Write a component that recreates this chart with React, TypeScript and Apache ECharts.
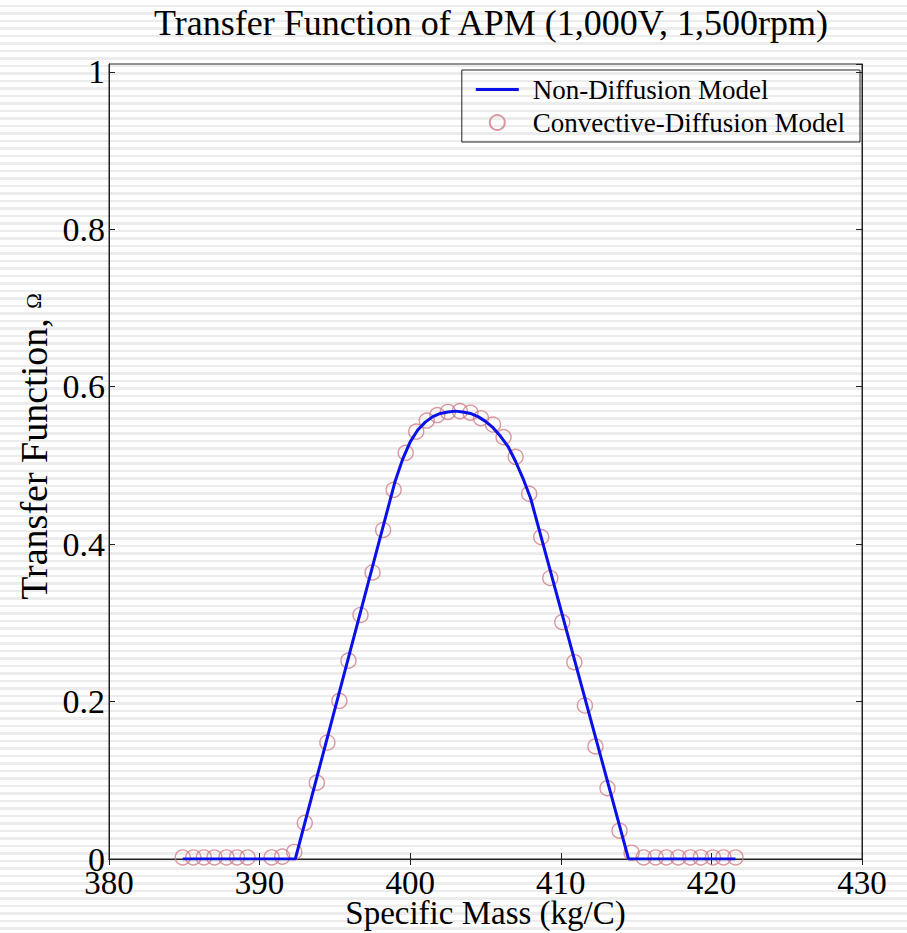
import React, { useEffect, useRef } from "react";
import * as echarts from "echarts";

const titleText = "Transfer Function of APM (1,000V, 1,500rpm)";
const xName = "Specific Mass (kg/C)";
const yName = "Transfer Function, {s|Ω}";
const seriesNames = ["Non-Diffusion Model", "Convective-Diffusion Model"];

const xMin = 380;
const xMax = 430;
const xStep = 10;
const yMin = 0;
const yMax = 1.01;
const yStep = 0.2;

// Non-Diffusion Model (line)
const lineX = [384.9, 392.37, 398.0, 399.0, 399.5, 400.0, 400.5, 401.0, 401.5, 402.0, 402.5, 403.0, 403.5, 404.0, 404.5, 405.0, 405.5, 406.0, 406.5, 407.0, 407.5, 408.0, 414.5, 421.6];
const lineY = [0, 0, 0.408, 0.48, 0.508, 0.53, 0.545, 0.555, 0.562, 0.566, 0.568, 0.569, 0.568, 0.566, 0.562, 0.556, 0.548, 0.537, 0.524, 0.505, 0.483, 0.458, 0, 0];

// Convective-Diffusion Model (circles)
const circX = [384.9, 385.6, 386.3, 387.0, 387.8, 388.5, 389.2, 390.8, 391.5, 392.3, 393.0, 393.8, 394.5, 395.3, 395.9, 396.7, 397.5, 398.2, 398.9, 399.7, 400.4, 401.1, 401.8, 402.5, 403.3, 404.0, 404.7, 405.5, 406.2, 407.0, 407.9, 408.7, 409.3, 410.1, 410.9, 411.6, 412.3, 413.1, 413.9, 414.7, 415.5, 416.3, 417.0, 417.8, 418.6, 419.3, 420.1, 420.8, 421.6];
const circY = [0.002, 0.002, 0.002, 0.002, 0.002, 0.002, 0.002, 0.002, 0.003, 0.009, 0.046, 0.097, 0.148, 0.201, 0.252, 0.31, 0.364, 0.418, 0.469, 0.516, 0.543, 0.557, 0.564, 0.568, 0.569, 0.567, 0.56, 0.552, 0.536, 0.511, 0.464, 0.409, 0.357, 0.301, 0.25, 0.195, 0.143, 0.09, 0.036, 0.008, 0.002, 0.002, 0.002, 0.002, 0.002, 0.002, 0.002, 0.002, 0.002];

const FONT = "'Liberation Serif', 'DejaVu Serif', serif";
const LINE_COLOR = "#0a10e8";

export default function App() {
  const ref = useRef<HTMLDivElement>(null);
  useEffect(() => {
    if (!ref.current) return;
    const chart = echarts.init(ref.current, undefined, { renderer: "svg" });
    const lineData = lineX.map((x, i) => [x, lineY[i]]);
    const circData = circX.map((x, i) => [x, circY[i]]);
    const axisLine = { show: true, lineStyle: { color: "#222", width: 1 } };
    const tick = { show: true, inside: true, length: 6, lineStyle: { color: "#222" } };
    chart.setOption({
      animation: false,
      backgroundColor: "transparent",
      textStyle: { fontFamily: FONT },
      title: {
        text: titleText,
        left: 486,
        top: 0,
        textAlign: "center",
        textStyle: { fontFamily: FONT, fontSize: 36, fontWeight: "normal", color: "#000" },
      },
      legend: {
        orient: "vertical",
        right: 47,
        top: 70,
        padding: [6, 15, 6, 14],
        itemGap: 6,
        itemWidth: 43,
        itemHeight: 15,
        borderColor: "#222",
        borderWidth: 1,
        backgroundColor: "transparent",
        textStyle: { fontFamily: FONT, fontSize: 27, color: "#000", padding: [0, 0, 0, 9] },
        data: [
          { name: seriesNames[0], icon: "path://M0,0H43V3H0Z" },
          { name: seriesNames[1] },
        ],
      },
      grid: {
        left: 109,
        right: 45,
        top: 64,
        bottom: 74,
        containLabel: false,
        outerBoundsMode: "none",
        show: true,
        borderColor: "#222",
        borderWidth: 1,
        backgroundColor: "transparent",
      },
      xAxis: [
        {
          type: "value",
          min: xMin,
          max: xMax,
          interval: xStep,
          position: "bottom",
          name: xName,
          nameLocation: "middle",
          nameGap: 39,
          nameMoveOverlap: false,
          nameTextStyle: { fontFamily: FONT, fontSize: 33, lineHeight: 30, color: "#000" },
          axisLine,
          axisTick: tick,
          axisLabel: { fontFamily: FONT, fontSize: 33, lineHeight: 26, color: "#000", margin: 11 },
          splitLine: { show: false },
        },
        {
          type: "value",
          min: xMin,
          max: xMax,
          interval: xStep,
          position: "top",
          axisLine,
          axisTick: tick,
          axisLabel: { show: false },
          splitLine: { show: false },
        },
      ],
      yAxis: [
        {
          type: "value",
          min: yMin,
          max: yMax,
          interval: yStep,
          position: "left",
          name: yName,
          nameLocation: "middle",
          nameGap: 56,
          nameMoveOverlap: false,
          nameTextStyle: {
            fontFamily: FONT,
            fontSize: 38,
            color: "#000",
            padding: [0, 0, 0, 30],
            rich: { s: { fontFamily: FONT, fontSize: 21, color: "#000" } },
          },
          axisLine,
          axisTick: tick,
          axisLabel: {
            fontFamily: FONT,
            fontSize: 34,
            lineHeight: 24,
            color: "#000",
            margin: 4,
            showMaxLabel: false,
            formatter: (v: number) => String(Math.round(v * 10) / 10),
          },
          splitLine: { show: false },
        },
        {
          type: "value",
          min: yMin,
          max: yMax,
          interval: yStep,
          position: "right",
          axisLine,
          axisTick: tick,
          axisLabel: { show: false },
          splitLine: { show: false },
        },
      ],
      series: [
        {
          name: seriesNames[0],
          type: "line",
          data: lineData,
          symbol: "none",
          lineStyle: { color: LINE_COLOR, width: 3 },
          itemStyle: { color: LINE_COLOR },
          z: 3,
        },
        {
          name: seriesNames[1],
          type: "scatter",
          data: circData,
          symbol: "circle",
          symbolSize: 15,
          itemStyle: { color: "rgba(0,0,0,0)", borderColor: "#cf8088", borderWidth: 1.4 },
          z: 2,
        },
      ],
    });
    return () => chart.dispose();
  }, []);
  return (
    <div
      style={{
        position: "fixed",
        left: 0,
        top: 0,
        width: 907,
        height: 933,
        background:
          "repeating-linear-gradient(to bottom, #ffffff 0px, #ffffff 5px, #ececec 5px, #ececec 7.5px)",
      }}
    >
      <div ref={ref} style={{ width: 907, height: 933 }} />
    </div>
  );
}
